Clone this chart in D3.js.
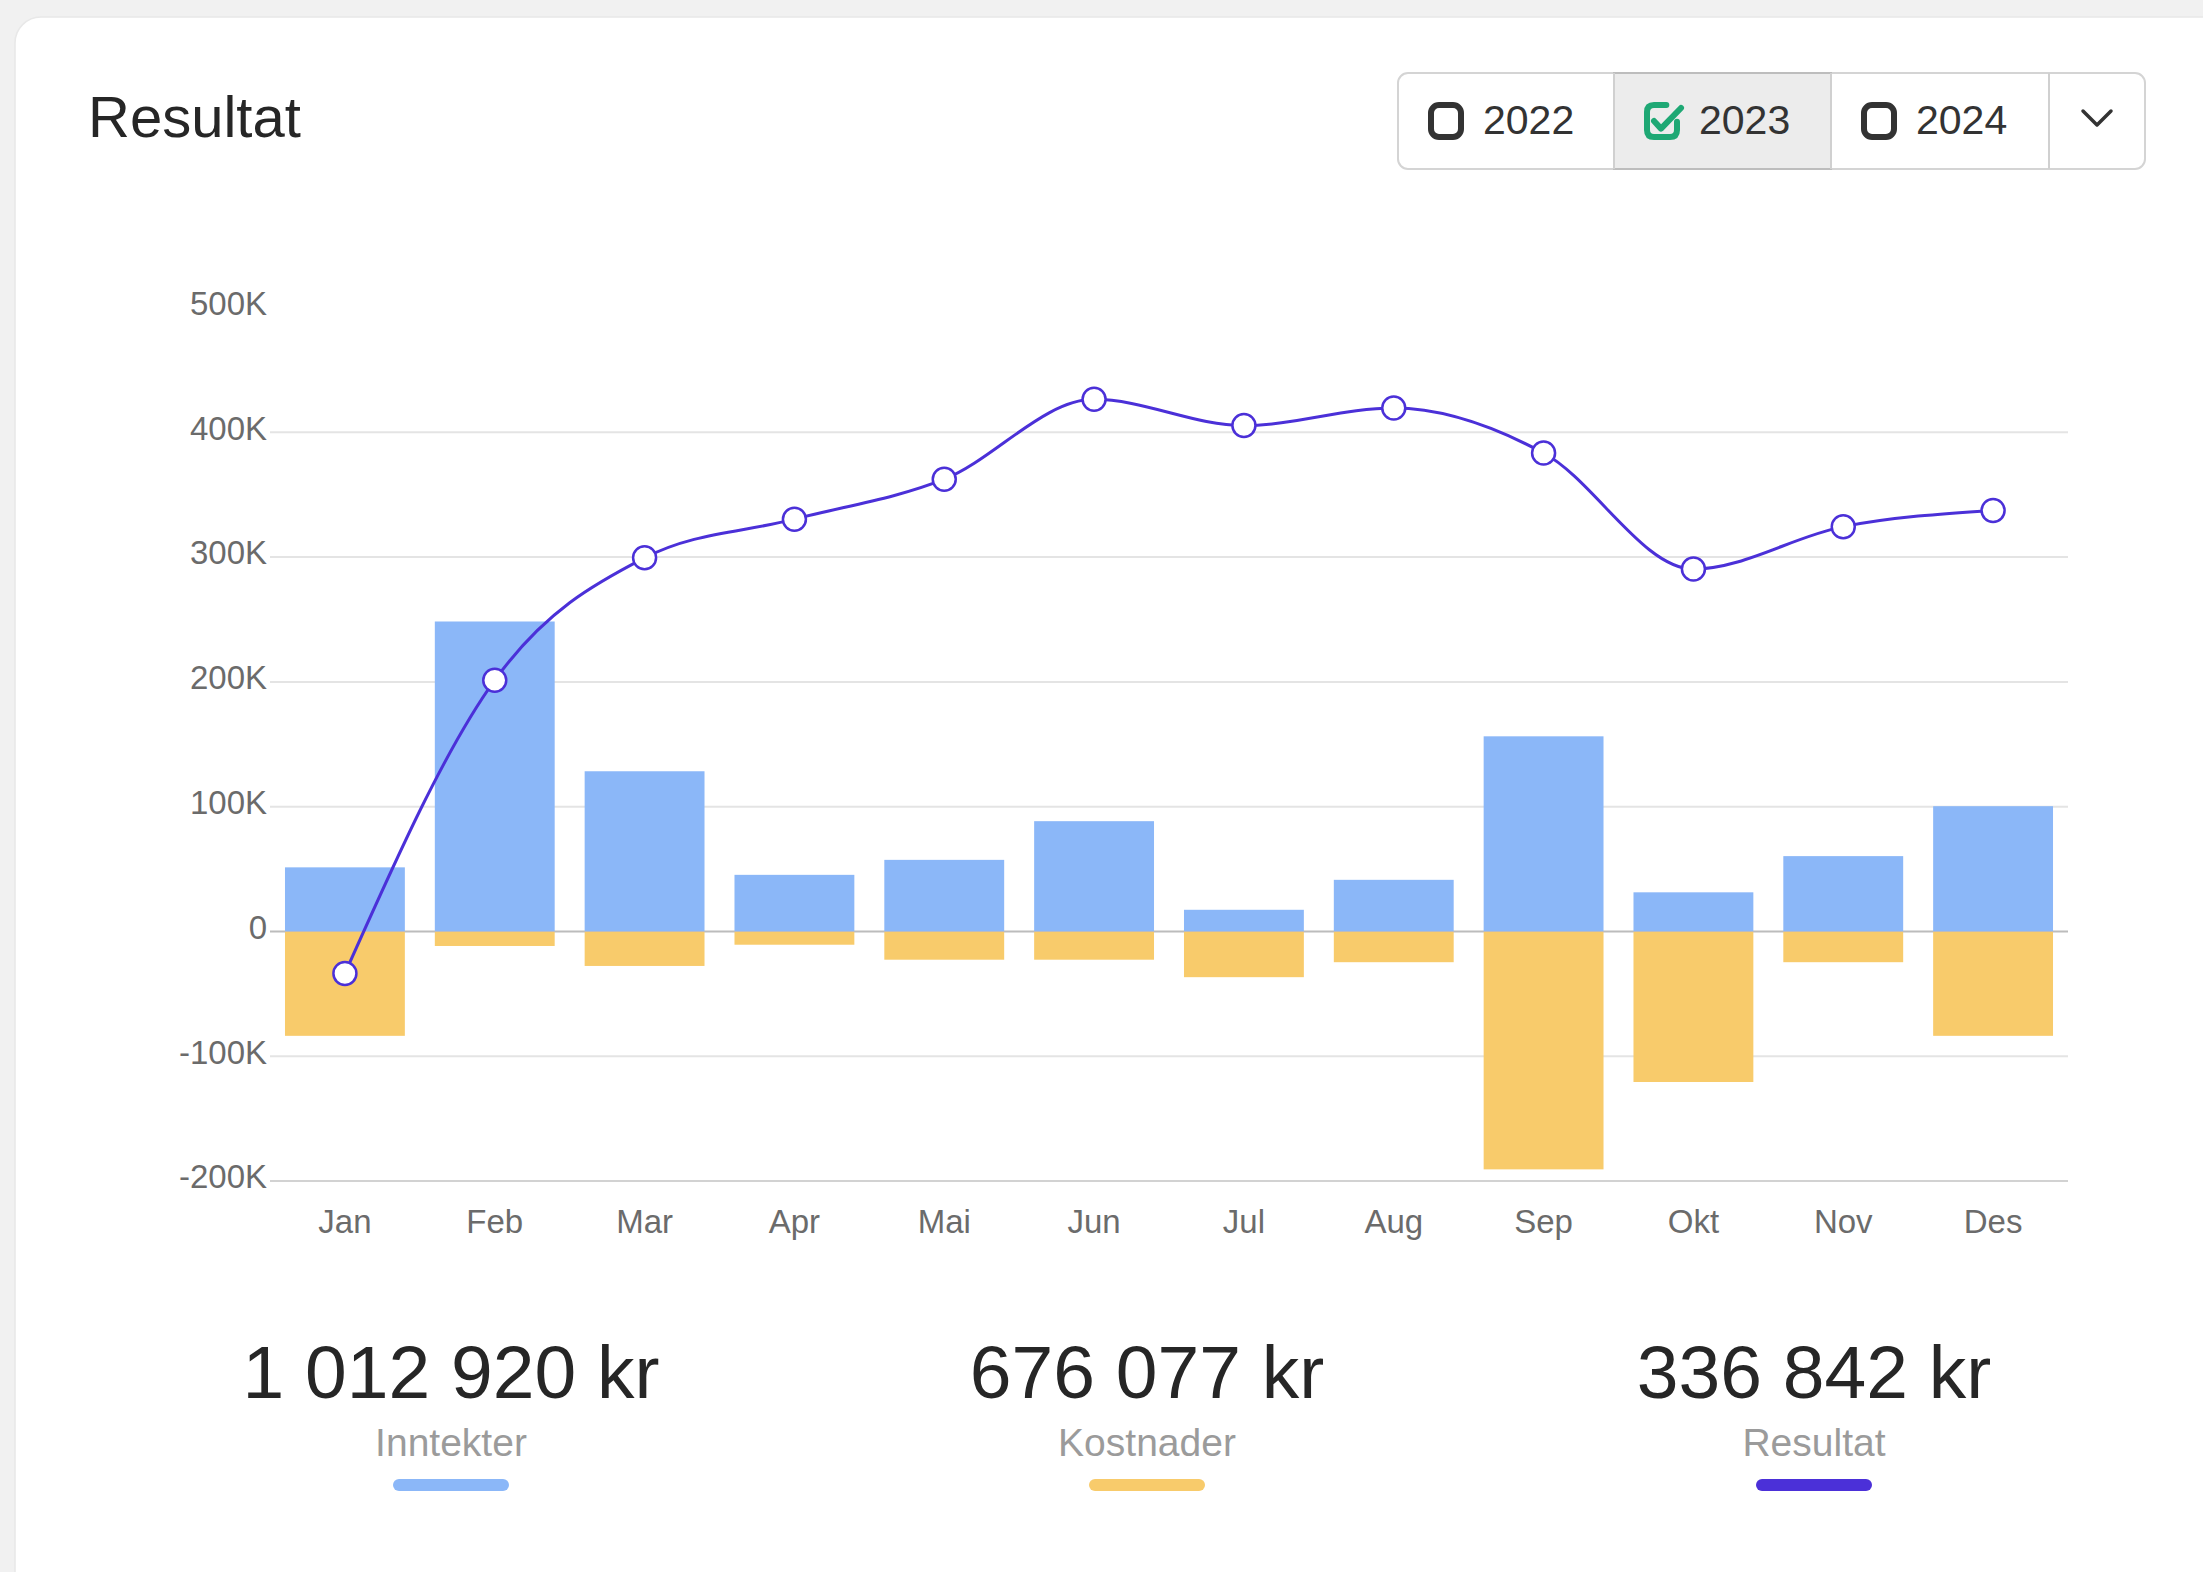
<!DOCTYPE html>
<html>
<head>
<meta charset="utf-8">
<script src="https://cdn.jsdelivr.net/npm/d3@7"></script>
<style>
  html, body { margin: 0; padding: 0; background: #f1f1f1; }
  svg { display: block; font-family: "Liberation Sans", Arial, sans-serif; }
</style>
</head>
<body>
<svg id="chart" width="2203" height="1572"></svg>
<script>
// ---- data ----
const months = ["Jan","Feb","Mar","Apr","Mai","Jun","Jul","Aug","Sep","Okt","Nov","Des"];
const inntekter = [51000, 248000, 128000, 45000, 57000, 88000, 17000, 41000, 156000, 31000, 60000, 100000];
const kostnader = [-84000, -12000, -28000, -11000, -23000, -23000, -37000, -25000, -191000, -121000, -25000, -84000];
const resultat = [-34000, 201000, 299000, 330000, 362000, 426000, 405000, 419000, 383000, 290000, 324000, 337000];
const yTicks = [-200000, -100000, 0, 100000, 200000, 300000, 400000, 500000];
const years = ["2022", "2023", "2024"];
const selectedYear = "2023";
const summaryValues = ["1 012 920 kr", "676 077 kr", "336 842 kr"];
const summaryLabels = ["Inntekter", "Kostnader", "Resultat"];

const BLUE = "#8bb7f8", YELLOW = "#f8cb6b", PURPLE = "#4b30d8", GREEN = "#1ea874";

const svg = d3.select("#chart");

// card
svg.append("rect").attr("x", 15).attr("y", 17).attr("width", 2300).attr("height", 1700)
  .attr("rx", 26).attr("fill", "#fff").attr("stroke", "#e8e8e8").attr("stroke-width", 1.5);

// title
svg.append("text").attr("x", 88).attr("y", 137).attr("font-size", 58).attr("fill", "#262626")
  .text("Resultat");

// ---- year selector ----
const btn = svg.append("g");
const segX = [1398, 1614, 1831, 2049, 2145];
btn.append("rect").attr("x", segX[0]).attr("y", 73).attr("width", segX[4] - segX[0]).attr("height", 96)
  .attr("rx", 10).attr("fill", "#fff").attr("stroke", "#d4d4d4").attr("stroke-width", 2);
years.forEach((yr, i) => {
  const x0 = segX[i], x1 = segX[i + 1];
  const sel = yr === selectedYear;
  if (sel) {
    btn.append("rect").attr("x", x0).attr("y", 73).attr("width", x1 - x0).attr("height", 96)
      .attr("fill", "#ececec").attr("stroke", "#bdbdbd").attr("stroke-width", 2);
  }
  const ix = x0 + 30, iy = 102, iw = 36, ih = 38;
  if (sel) {
    btn.append("path")
      .attr("d", `M${ix + iw * 0.62},${iy + 3} L${ix + 10},${iy + 3} Q${ix + 3},${iy + 3} ${ix + 3},${iy + 10} L${ix + 3},${iy + ih - 10} Q${ix + 3},${iy + ih - 3} ${ix + 10},${iy + ih - 3} L${ix + iw - 10},${iy + ih - 3} Q${ix + iw - 3},${iy + ih - 3} ${ix + iw - 3},${iy + ih - 10} L${ix + iw - 3},${iy + ih * 0.52}`)
      .attr("fill", "none").attr("stroke", GREEN).attr("stroke-width", 6).attr("stroke-linecap", "round");
    btn.append("path")
      .attr("d", `M${ix + 10},${iy + ih * 0.5} L${ix + 17},${iy + ih * 0.7} L${ix + iw + 1},${iy + 6}`)
      .attr("fill", "none").attr("stroke", GREEN).attr("stroke-width", 6)
      .attr("stroke-linecap", "round").attr("stroke-linejoin", "round");
  } else {
    btn.append("rect").attr("x", ix + 3).attr("y", iy + 3).attr("width", iw - 6).attr("height", ih - 6)
      .attr("rx", 8).attr("fill", "none").attr("stroke", "#333").attr("stroke-width", 6);
  }
  btn.append("text").attr("x", x0 + 85).attr("y", 134).attr("font-size", 41).attr("fill", "#333").text(yr);
  if (i > 0) {
    btn.append("line").attr("x1", x0).attr("x2", x0).attr("y1", 73).attr("y2", 169)
      .attr("stroke", "#d0d0d0").attr("stroke-width", 2);
  }
});
btn.append("line").attr("x1", segX[3]).attr("x2", segX[3]).attr("y1", 73).attr("y2", 169)
  .attr("stroke", "#d0d0d0").attr("stroke-width", 2);
btn.append("path").attr("d", `M2083,111 L2097,125 L2111,111`).attr("fill", "none")
  .attr("stroke", "#333").attr("stroke-width", 3.5).attr("stroke-linecap", "round").attr("stroke-linejoin", "round");

// ---- chart ----
const x = d3.scaleBand().domain(months).range([270, 2068]).paddingInner(0.2).paddingOuter(0.1);
const y = d3.scaleLinear().domain([-200000, 500000]).range([1180.6, 307]);
const fmt = d => d === 0 ? "0" : (d / 1000) + "K";

const yAxis = svg.append("g").attr("transform", "translate(270,0)")
  .call(d3.axisLeft(y).tickValues(yTicks).tickSize(-1798).tickPadding(3).tickFormat(fmt));
yAxis.select(".domain").remove();
yAxis.selectAll(".tick line")
  .attr("stroke", d => d === 0 ? "#bcbcbc" : (d === -200000 ? "#d2d2d2" : "#e4e4e4"))
  .attr("stroke-width", 2)
  .attr("stroke-opacity", d => d === 500000 ? 0 : 1);
yAxis.selectAll(".tick text").attr("font-size", 33).attr("fill", "#6b6b6b")
  .attr("font-family", "'Liberation Sans', Arial, sans-serif").attr("dy", "0.22em");

const xAxis = svg.append("g").attr("transform", "translate(0,1180.6)")
  .call(d3.axisBottom(x).tickSize(0).tickPadding(29));
xAxis.select(".domain").remove();
xAxis.selectAll(".tick text").attr("font-size", 33).attr("fill", "#6b6b6b")
  .attr("font-family", "'Liberation Sans', Arial, sans-serif");

// bars
svg.append("g").selectAll("rect").data(months).join("rect")
  .attr("x", d => x(d)).attr("width", x.bandwidth())
  .attr("y", (d, i) => y(inntekter[i])).attr("height", (d, i) => y(0) - y(inntekter[i]))
  .attr("fill", BLUE);
svg.append("g").selectAll("rect").data(months).join("rect")
  .attr("x", d => x(d)).attr("width", x.bandwidth())
  .attr("y", y(0) + 1).attr("height", (d, i) => y(kostnader[i]) - y(0) - 1)
  .attr("fill", YELLOW);

// line
const cx = d => x(d) + x.bandwidth() / 2;
const line = d3.line().x((d, i) => cx(months[i])).y(d => y(d)).curve(d3.curveMonotoneX);
svg.append("path").datum(resultat).attr("d", line).attr("fill", "none")
  .attr("stroke", PURPLE).attr("stroke-width", 3);
svg.append("g").selectAll("circle").data(resultat).join("circle")
  .attr("cx", (d, i) => cx(months[i])).attr("cy", d => y(d)).attr("r", 11.5)
  .attr("fill", "#fff").attr("stroke", PURPLE).attr("stroke-width", 2.5);

// ---- summary ----
const sumX = [451, 1147, 1814];
const sumColors = [BLUE, YELLOW, PURPLE];
summaryValues.forEach((v, i) => {
  svg.append("text").attr("x", sumX[i]).attr("y", 1398).attr("text-anchor", "middle")
    .attr("font-size", 75).attr("fill", "#262626").text(v);
  svg.append("text").attr("x", sumX[i]).attr("y", 1456).attr("text-anchor", "middle")
    .attr("font-size", 39).attr("fill", "#9b9b9b").text(summaryLabels[i]);
  svg.append("rect").attr("x", sumX[i] - 58).attr("y", 1479).attr("width", 116).attr("height", 12)
    .attr("rx", 6).attr("fill", sumColors[i]);
});
</script>
</body>
</html>
